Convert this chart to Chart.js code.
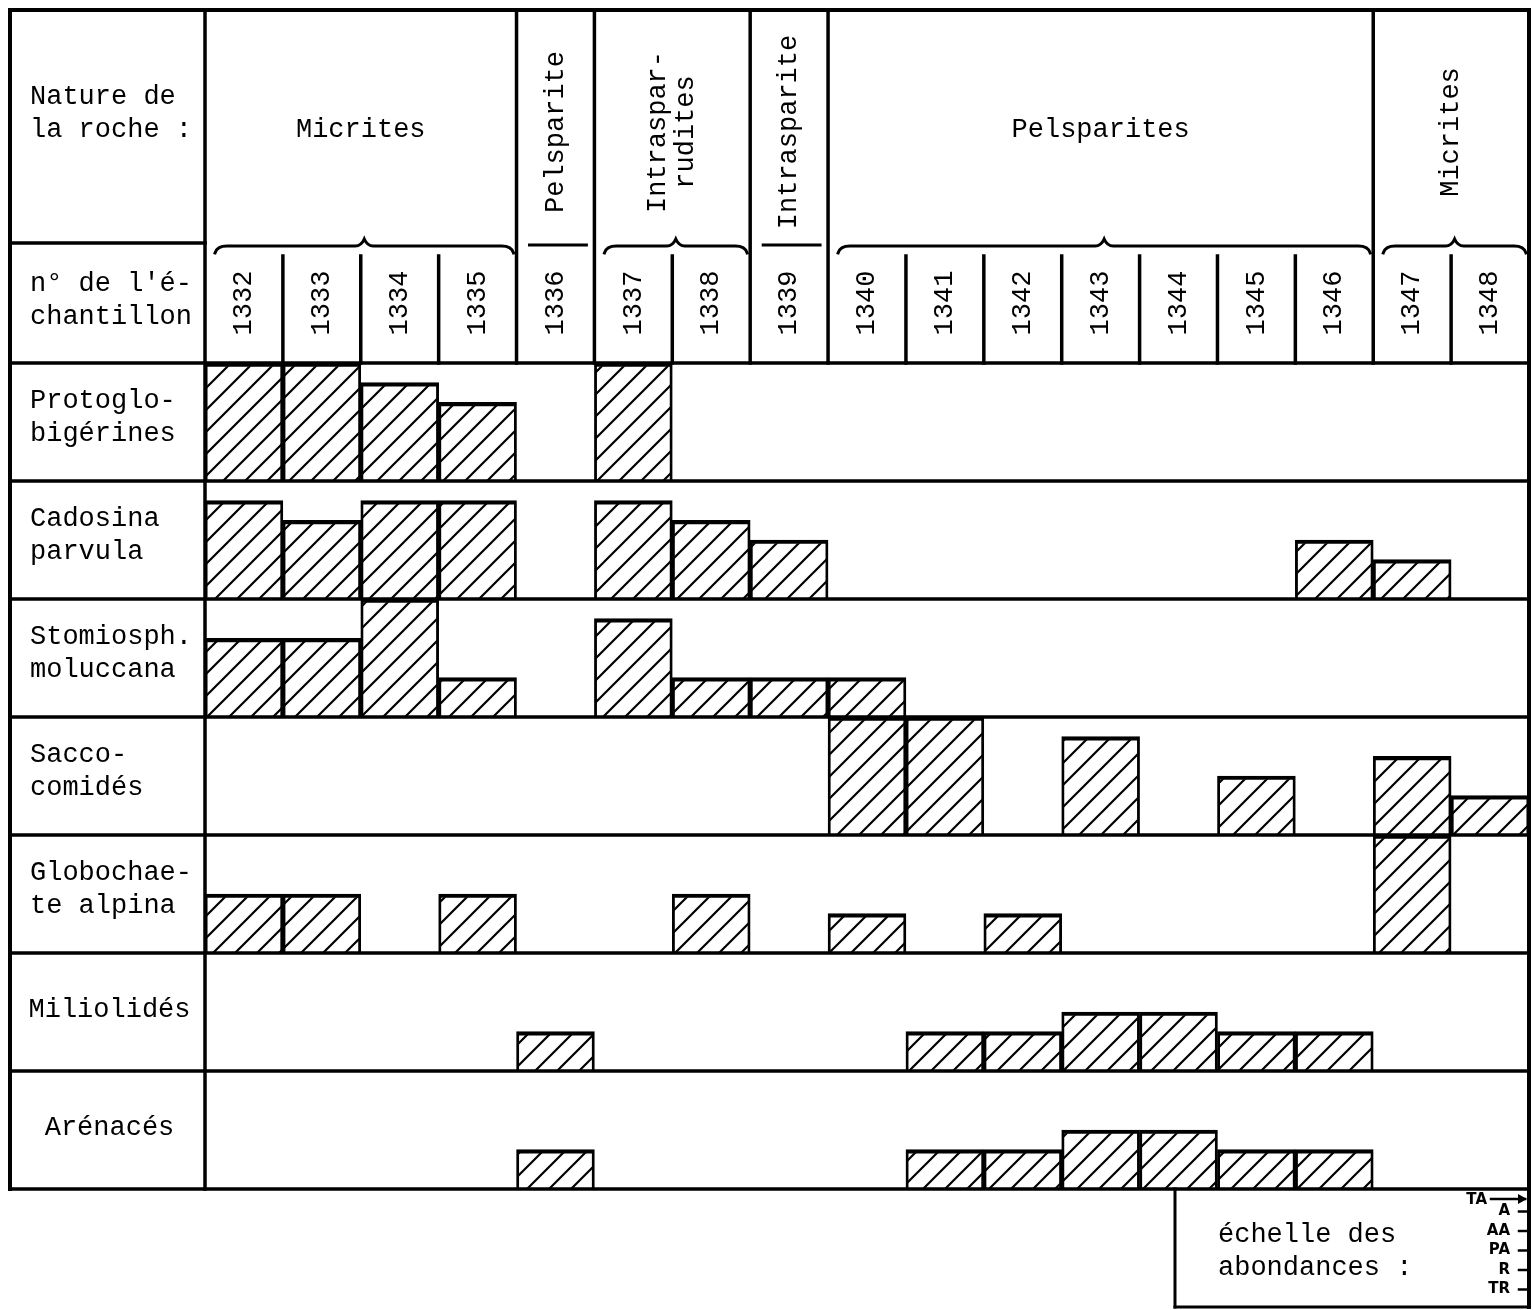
<!DOCTYPE html>
<html>
<head>
<meta charset="utf-8">
<title>Microfaciès et abondances</title>
<script src="https://cdn.jsdelivr.net/npm/chart.js@4.4.1/dist/chart.umd.min.js"></script>
<style>
  html, body { margin: 0; padding: 0; background: #fff; }
  #wrap { width: 1533px; height: 1310px; }
</style>
</head>
<body>
<div id="wrap"><canvas id="chart-abondances" width="1533" height="1310"></canvas></div>
<script>
// numeros d'echantillons (colonnes)
var echantillons = ['1332', '1333', '1334', '1335', '1336', '1337', '1338', '1339', '1340',
  '1341', '1342', '1343', '1344', '1345', '1346', '1347', '1348']

// nature de la roche, et nombre d'echantillons couverts par chaque groupe
var roches = ['Micrites', 'Pelsparite', 'Intraspar-\nrudites', 'Intrasparite', 'Pelsparites', 'Micrites']
var rochesNb = [4, 1, 2, 1, 7, 2]

var taxons = ['Protoglo-\nbigérines', 'Cadosina\nparvula', 'Stomiosph.\nmoluccana', 'Sacco-\ncomidés',
  'Globochae-\nte alpina', 'Miliolidés', 'Arénacés']

// echelle des abondances : 1 = TR ... 6 = TA (0 = absent)
var abondances = ['TR', 'R', 'PA', 'AA', 'A', 'TA']

var protoglobigerines = [6, 6, 5, 4, 0, 6, 0, 0, 0, 0, 0, 0, 0, 0, 0, 0, 0]
var cadosina          = [5, 4, 5, 5, 0, 5, 4, 3, 0, 0, 0, 0, 0, 0, 3, 2, 0]
var stomiosphaera     = [4, 4, 6, 2, 0, 5, 2, 2, 2, 0, 0, 0, 0, 0, 0, 0, 0]
var saccocomides      = [0, 0, 0, 0, 0, 0, 0, 0, 6, 6, 0, 5, 0, 3, 0, 4, 2]
var globochaete       = [3, 3, 0, 3, 0, 0, 3, 0, 2, 0, 2, 0, 0, 0, 0, 6, 0]
var miliolides        = [0, 0, 0, 0, 2, 0, 0, 0, 0, 2, 2, 3, 3, 2, 2, 0, 0]
var arenaces          = [0, 0, 0, 0, 2, 0, 0, 0, 0, 2, 2, 3, 3, 2, 2, 0, 0]

var series = [protoglobigerines, cadosina, stomiosphaera, saccocomides, globochaete, miliolides, arenaces]

var NB_NIVEAUX = abondances.length
var POLICE = "'Liberation Mono', 'DejaVu Sans Mono', monospace"

// hachures obliques a 45 degres
function motifHachures() {
  var P = 22
  var c = document.createElement('canvas')
  c.width = P
  c.height = P
  var g = c.getContext('2d')
  g.strokeStyle = '#000'
  g.lineWidth = 2.2
  g.beginPath()
  for (var k = -1; k <= 1; k++) {
    g.moveTo(k * P - P, 2 * P)
    g.lineTo(k * P + 2 * P, -P)
  }
  g.stroke()
  return g.createPattern(c, 'repeat')
}

var hachures = motifHachures()

// une ligne du tableau par taxon, chaque ligne ayant sa propre base
var datasets = series.map(function (vals, i) {
  var base = (series.length - 1 - i) * NB_NIVEAUX
  return {
    label: taxons[i].replace('\n', ' '),
    data: vals.map(function (v) { return v > 0 ? [base, base + v] : null }),
    backgroundColor: hachures,
    borderColor: '#000',
    borderWidth: { top: 3.5, bottom: 0, left: 2.2, right: 2.2 },
    borderSkipped: false,
    grouped: false,
    barPercentage: 1,
    categoryPercentage: 1,
  }
})

function ligne(ctx, x1, y1, x2, y2, w) {
  ctx.lineWidth = w || 3
  ctx.beginPath()
  ctx.moveTo(x1, y1)
  ctx.lineTo(x2, y2)
  ctx.stroke()
}

function texte(ctx, txt, x, y, align, vertical) {
  var lignes = txt.split('\n')
  var pas = vertical ? 28 : 33
  ctx.save()
  ctx.translate(x, y)
  if (vertical) ctx.rotate(-Math.PI / 2)
  ctx.textAlign = align
  ctx.textBaseline = 'middle'
  lignes.forEach(function (l, k) {
    ctx.fillText(l, 0, (k - (lignes.length - 1) / 2) * pas)
  })
  ctx.restore()
}

function accolade(ctx, x1, x2, y) {
  var m = (x1 + x2) / 2
  ctx.lineWidth = 3
  ctx.beginPath()
  ctx.moveTo(x1, y + 7)
  ctx.quadraticCurveTo(x1 + 2, y, x1 + 12, y)
  ctx.lineTo(m - 9, y)
  ctx.quadraticCurveTo(m - 3, y, m, y - 7)
  ctx.quadraticCurveTo(m + 3, y, m + 9, y)
  ctx.lineTo(x2 - 12, y)
  ctx.quadraticCurveTo(x2 - 2, y, x2, y + 7)
  ctx.stroke()
}

var tableau = {
  id: 'tableau',
  beforeDraw: function (chart) {
    var ctx = chart.ctx
    ctx.save()
    ctx.fillStyle = '#fff'
    ctx.fillRect(0, 0, chart.width, chart.height)
    ctx.restore()
  },
  afterDatasetsDraw: function (chart) {
    var ctx = chart.ctx
    var area = chart.chartArea
    var ys = chart.scales.y
    var colW = (area.right - area.left) / echantillons.length
    var bord = function (i) { return area.left + i * colW }
    var G = 10, T = 10, MILIEU = 243, BAS_LEG = 1307

    ctx.save()
    ctx.strokeStyle = '#000'
    ctx.fillStyle = '#000'
    ctx.lineCap = 'square'

    // cadre et lignes
    ligne(ctx, G, T, area.right, T, 4)
    ligne(ctx, G, T, G, area.bottom, 4)
    ligne(ctx, area.left, T, area.left, area.bottom, 3.5)
    ligne(ctx, area.right, T, area.right, BAS_LEG, 4)
    ligne(ctx, G, MILIEU, area.left, MILIEU, 3.5)
    for (var k = 0; k <= taxons.length; k++) {
      var yy = ys.getPixelForValue(k * NB_NIVEAUX)
      ligne(ctx, G, yy, area.right, yy, 3.5)
    }

    // groupes de roches
    ctx.font = '27px ' + POLICE
    var debut = 0
    roches.forEach(function (nom, r) {
      var fin = debut + rochesNb[r]
      var x1 = bord(debut), x2 = bord(fin)
      if (r > 0) ligne(ctx, x1, T, x1, area.top, 3.5)
      for (var j = debut + 1; j < fin; j++) ligne(ctx, bord(j), 256, bord(j), area.top, 3.5)
      if (rochesNb[r] > 1) accolade(ctx, x1 + 10, x2 - 3, 246)
      else ligne(ctx, x1 + 13, 245, x2 - 8, 245, 3)
      if (rochesNb[r] >= 4) texte(ctx, nom, (x1 + x2) / 2, 130, 'center', false)
      else texte(ctx, nom, (x1 + x2) / 2, 132, 'center', true)
      debut = fin
    })

    // numeros d'echantillons
    echantillons.forEach(function (e, i) {
      texte(ctx, e, bord(i) + colW / 2, 303, 'center', true)
    })

    // colonne des libelles
    texte(ctx, 'Nature de\nla roche :', 30, 113, 'left', false)
    texte(ctx, "n° de l'é-\nchantillon", 30, 300, 'left', false)
    taxons.forEach(function (t, i) {
      var haut = ys.getPixelForValue((taxons.length - i) * NB_NIVEAUX)
      if (t.indexOf('\n') >= 0) texte(ctx, t, 30, haut + 54, 'left', false)
      else texte(ctx, t, (G + area.left) / 2 + 2, haut + 57, 'center', false)
    })

    // echelle des abondances
    var gauche = 1175
    ligne(ctx, gauche, area.bottom, gauche, BAS_LEG, 3)
    ligne(ctx, gauche, BAS_LEG, area.right, BAS_LEG, 3)
    texte(ctx, 'échelle des\nabondances :', 1218, 1251, 'left', false)
    var zero = 1309, pas = 19.5
    ctx.font = 'bold 15px ' + "'DejaVu Sans', sans-serif"
    abondances.forEach(function (a, i) {
      var y = zero - (i + 1) * pas
      if (i === abondances.length - 1) {
        y = 1199
        ligne(ctx, 1491, y, area.right - 4, y, 2.5)
        ctx.beginPath()
        ctx.moveTo(area.right - 2, y)
        ctx.lineTo(area.right - 11, y - 5)
        ctx.lineTo(area.right - 11, y + 5)
        ctx.closePath()
        ctx.fill()
        texte(ctx, a, 1487, y + 1, 'right', false)
      } else {
        ligne(ctx, area.right - 10, y, area.right, y, 2.5)
        texte(ctx, a, area.right - 19, y, 'right', false)
      }
    })
    ctx.restore()
  },
}

var ctx = document.getElementById('chart-abondances').getContext('2d')

var ChartAbondances = new Chart(ctx, {
  type: 'bar',
  data: {
    labels: echantillons,
    datasets: datasets,
  },
  options: {
    responsive: false,
    animation: false,
    devicePixelRatio: 1,
    layout: {
      padding: { left: 205, right: 4, top: 363, bottom: 121 },
    },
    plugins: {
      legend: { display: false },
      tooltip: { enabled: false },
    },
    scales: {
      x: { display: false },
      y: {
        display: false,
        min: 0,
        max: series.length * NB_NIVEAUX,
      },
    },
  },
  plugins: [tableau],
})
</script>
</body>
</html>
